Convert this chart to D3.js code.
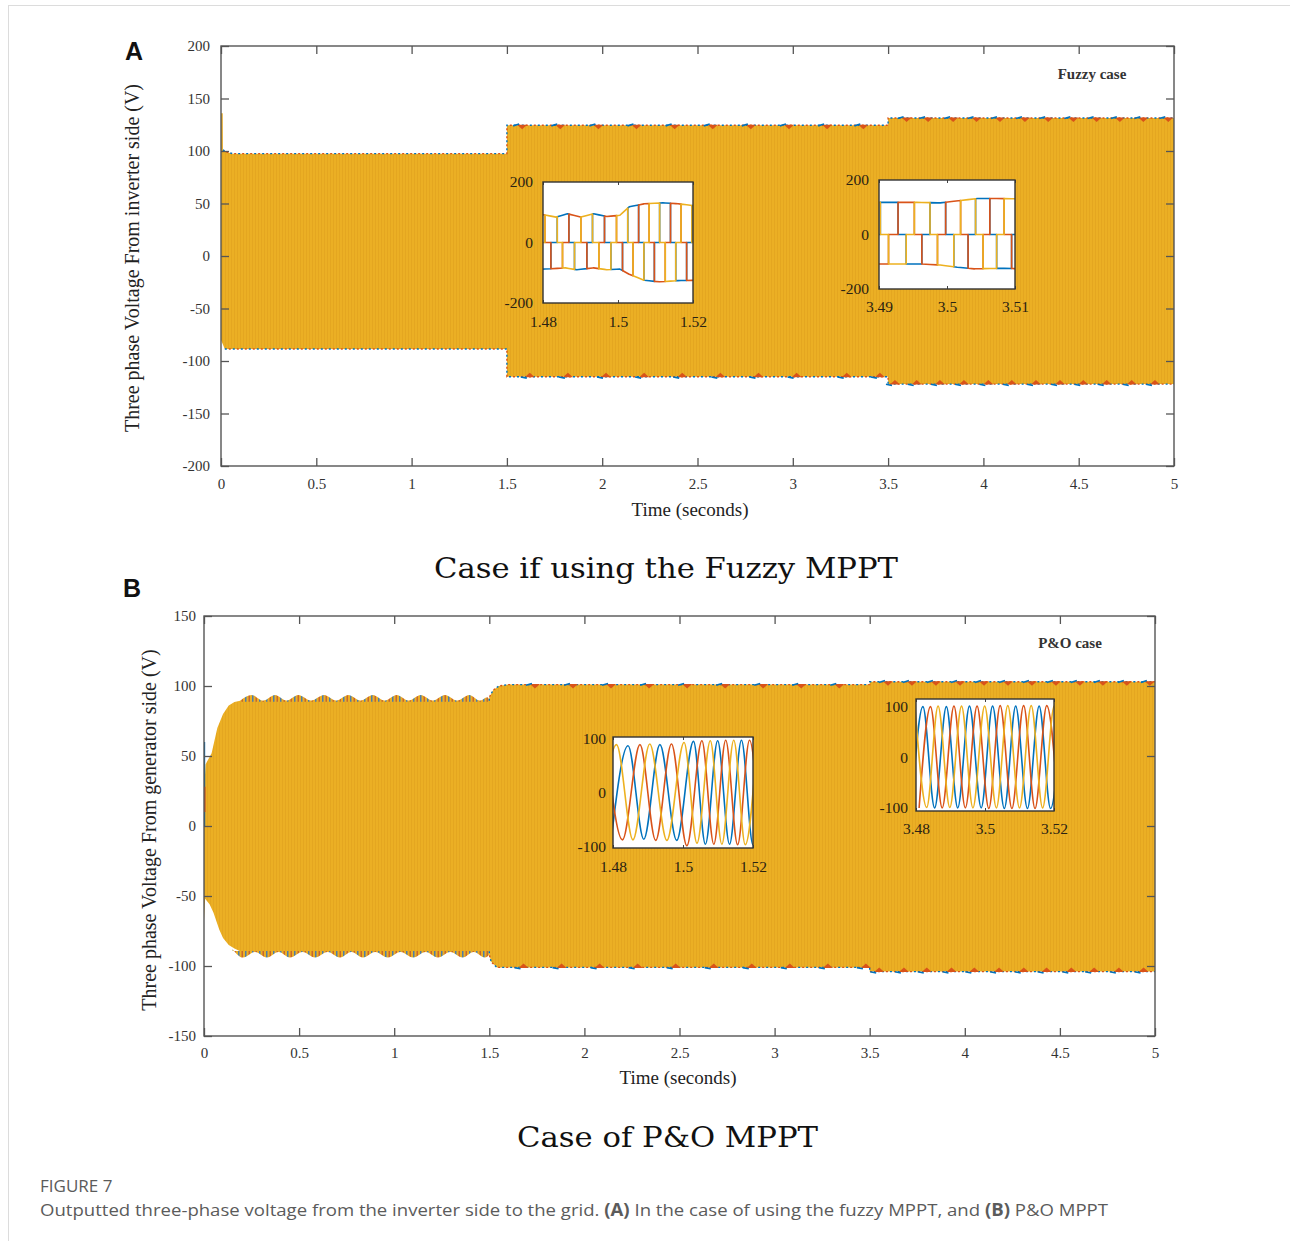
<!DOCTYPE html>
<html>
<head>
<meta charset="utf-8">
<script src="https://cdn.jsdelivr.net/npm/d3@7"></script>
<style>
  body { margin: 0; background: #fff; }
  svg text { font-family: "Liberation Serif", "Times New Roman", serif; }
</style>
</head>
<body>
<svg id="fig" width="1290" height="1241"></svg>
<script>
// ---------------- data ----------------
const timeTicks = [0, 0.5, 1, 1.5, 2, 2.5, 3, 3.5, 4, 4.5, 5];
const fuzzyVoltTicks = [-200, -150, -100, -50, 0, 50, 100, 150, 200];
const poVoltTicks = [-150, -100, -50, 0, 50, 100, 150];

// Fuzzy MPPT: envelope of the three-phase band [time s, volts]
const fuzzyUpper = [[0, 136], [0.009, 136], [0.01, 101], [0.03, 99], [0.06, 97.5], [1.5, 97.5], [1.5, 124.5], [3.5, 124.5], [3.5, 131.5], [5, 131.5]];
const fuzzyLower = [[0, -80], [0.02, -88.5], [1.5, -88.5], [1.5, -115], [3.5, -115], [3.5, -122], [5, -122]];
// times where a phase peak shows on the band edge
const fuzzyTopMarks = [1.58, 1.78, 1.98, 2.18, 2.38, 2.58, 2.78, 2.98, 3.18, 3.37, 3.597, 3.71, 3.841, 3.964, 4.087, 4.218, 4.34, 4.472, 4.594, 4.716, 4.839, 4.97];
const fuzzyBottomMarks = [1.62, 1.82, 2.02, 2.22, 2.42, 2.62, 2.82, 3.02, 3.283, 3.457, 3.536, 3.65, 3.772, 3.898, 4.026, 4.149, 4.276, 4.402, 4.524, 4.647, 4.778, 4.9];

// Fuzzy MPPT inset 1 (1.48-1.52 s): switching instants and level envelopes
const fuzzyInset1Switch = [1.4805, 1.4821, 1.4838, 1.4852, 1.4869, 1.4884, 1.4901, 1.4917, 1.4932, 1.4949, 1.4964, 1.4981, 1.4996, 1.5012, 1.5026, 1.5040, 1.5055, 1.5069, 1.5083, 1.5097, 1.5111, 1.5126, 1.5140, 1.5154, 1.5168, 1.5183, 1.5197];
const fuzzyInset1Upper = [[1.48, 92], [1.4835, 84], [1.4865, 95], [1.49, 84], [1.4935, 95], [1.497, 86], [1.5005, 90], [1.503, 118], [1.507, 128], [1.512, 131], [1.516, 128], [1.52, 122]];
const fuzzyInset1Lower = [[1.48, -88], [1.486, -84], [1.489, -90], [1.4935, -84], [1.497, -90], [1.5005, -88], [1.503, -105], [1.507, -125], [1.511, -130], [1.516, -126], [1.52, -125]];
// Fuzzy MPPT inset 2 (3.49-3.51 s)
const fuzzyInset2Switch = [3.4902, 3.4914, 3.4928, 3.4940, 3.4952, 3.4963, 3.4975, 3.4986, 3.4998, 3.5010, 3.5020, 3.5031, 3.5042, 3.5053, 3.5063, 3.5073, 3.5084, 3.5095, 3.5106];
const fuzzyInset2Upper = [[3.49, 118], [3.4955, 118], [3.499, 116], [3.502, 125], [3.5045, 132], [3.507, 132], [3.511, 131]];
const fuzzyInset2Lower = [[3.49, -108], [3.496, -108], [3.499, -112], [3.5015, -120], [3.504, -126], [3.508, -124], [3.511, -126]];
// six-step conduction pattern (yellow, red, blue legs)
const sixStep = { Y: [1, 1, 0, -1, -1, 0], R: [0, -1, -1, 0, 1, 1], B: [-1, 0, 1, 1, 0, -1] };

// P&O MPPT: envelope of the three-phase band
const poUpper = [[0, 22], [0.008, 44], [0.04, 52], [0.07, 70], [0.1, 80], [0.13, 86], [0.16, 88.5], [0.19, 89.5], [1.5, 89.5], [1.5, 92], [1.52, 97], [1.55, 100], [1.6, 101], [3.5, 101], [3.5, 103], [5, 103]];
const poLower = [[0, -67], [0.006, -52], [0.03, -56], [0.05, -62], [0.08, -74], [0.1, -80], [0.13, -85], [0.16, -87.5], [0.19, -89.5], [1.5, -89.5], [1.5, -92], [1.51, -97], [1.54, -101], [3.5, -101], [3.5, -104], [5, -104]];
// beat ripple on the band edges (0.19-1.5 s)
const poRippleTop = [[0.19, 89.5], [0.251, 93.5], [0.312, 89.5], [0.373, 93.5], [0.434, 89.5], [0.496, 93.5], [0.563, 89.5], [0.631, 93.5], [0.695, 89.5], [0.759, 93.5], [0.823, 89.5], [0.887, 93.5], [0.95, 89.5], [1.013, 93.5], [1.076, 89.5], [1.139, 93.5], [1.203, 89.5], [1.267, 93.5], [1.331, 89.5], [1.395, 93.5], [1.45, 89.5], [1.49, 92], [1.5, 90]];
const poRippleBottom = [[0.15, -88], [0.205, -94], [0.268, -90], [0.331, -94], [0.392, -90], [0.452, -94], [0.518, -90], [0.584, -94], [0.65, -90], [0.715, -94], [0.775, -90], [0.836, -94], [0.9, -90], [0.967, -94], [1.033, -90], [1.1, -94], [1.165, -90], [1.23, -94], [1.295, -90], [1.36, -94], [1.418, -90], [1.477, -94], [1.5, -92]];
const poTopMarks = [1.74, 1.94, 2.14, 2.34, 2.54, 2.74, 2.94, 3.14, 3.34, 3.596, 3.722, 3.848, 3.975, 4.101, 4.227, 4.353, 4.479, 4.605, 4.726, 4.852, 4.973];
const poBottomMarks = [1.68, 1.88, 2.08, 2.28, 2.48, 2.68, 2.88, 3.08, 3.28, 3.48, 3.55, 3.68, 3.8, 3.93, 4.05, 4.18, 4.31, 4.43, 4.56, 4.68, 4.81, 4.94];
// start-up transients at t = 0 [time, from, to, phase]
const poStartSpikes = [[0.002, 0, 60, "B"], [0.004, 10, 28, "R"]];

// P&O inset 1 (1.48-1.52 s): phase extrema [time, volts]
const poInset1Y = [[1.4762, -86], [1.4810, 88], [1.4857, -87], [1.4905, 89], [1.4954, -88], [1.5003, 92], [1.5040, -93], [1.5078, 95], [1.5111, -95], [1.5145, 96], [1.5178, -96], [1.5212, 96]];
const poInset1R = [[1.4781, 86], [1.4827, -87], [1.4877, 88], [1.4922, -88], [1.4967, 89], [1.5011, -98], [1.5054, 95], [1.5088, -95], [1.5122, 96], [1.5156, -96], [1.5190, 96], [1.5222, -96]];
const poInset1B = [[1.4795, -85], [1.4843, 86], [1.4888, -86], [1.4934, 88], [1.4982, -88], [1.5030, 94], [1.5064, -95], [1.5099, 95], [1.5133, -95], [1.5167, 96], [1.5200, -96], [1.5234, 96]];
// P&O inset 2 (3.48-3.52 s)
const poInset2Y = [[3.4797, 99], [3.4831, -99], [3.4864, 100], [3.4898, -99], [3.4932, 100], [3.4965, -100], [3.4999, 100], [3.5033, -100], [3.5066, 101], [3.5100, -100], [3.5134, 101], [3.5167, -100], [3.5201, 101], [3.5235, -100]];
const poInset2R = [[3.4809, -100], [3.4842, 99], [3.4876, -100], [3.4910, 100], [3.4943, -100], [3.4977, 100], [3.5011, -101], [3.5044, 101], [3.5078, -101], [3.5112, 101], [3.5145, -101], [3.5179, 101], [3.5213, -101]];
const poInset2B = [[3.4787, -99], [3.4820, 99], [3.4854, -100], [3.4888, 99], [3.4921, -100], [3.4955, 100], [3.4989, -100], [3.5022, 100], [3.5056, -101], [3.5089, 100], [3.5123, -101], [3.5157, 100], [3.5190, -101], [3.5224, 100]];

// ---------------- drawing ----------------
const COL = { B: "#0072BD", R: "#D95319", Y: "#EDB120" };
const BAND = "#EBAF24";
const plain = d => String(d);   // hyphen-minus labels, as MATLAB prints them
const svg = d3.select("#fig");
const defs = svg.append("defs");

// faint vertical striping of the dense waveform band
const bp = defs.append("pattern").attr("id", "band").attr("patternUnits", "userSpaceOnUse")
  .attr("width", 3).attr("height", 20);
bp.append("rect").attr("width", 3).attr("height", 20).attr("fill", BAND);
bp.append("rect").attr("width", 1).attr("height", 20).attr("fill", "#E4A620");
// multicoloured striping where the phases beat on the edge
const rp = defs.append("pattern").attr("id", "ripple").attr("patternUnits", "userSpaceOnUse")
  .attr("width", 7).attr("height", 20);
rp.append("rect").attr("width", 7).attr("height", 20).attr("fill", BAND);
rp.append("rect").attr("x", 0).attr("width", 1.5).attr("height", 20).attr("fill", "#4E7DA6");
rp.append("rect").attr("x", 3.5).attr("width", 1.5).attr("height", 20).attr("fill", "#C9662C");

// page frame lines
svg.append("line").attr("x1", 8).attr("x2", 1290).attr("y1", 5.5).attr("y2", 5.5).attr("stroke", "#dcdcdc");
svg.append("line").attr("x1", 8.5).attr("x2", 8.5).attr("y1", 5).attr("y2", 1241).attr("stroke", "#dcdcdc");

function envAt(env, t) {
  for (let i = env.length - 1; i >= 0; i--) {
    if (env[i][0] <= t) {
      const n = env[i + 1];
      if (!n || n[0] === env[i][0]) return env[i][1];
      return env[i][1] + (n[1] - env[i][1]) * (t - env[i][0]) / (n[0] - env[i][0]);
    }
  }
  return env[0][1];
}

function mainPanel(o) {
  const g = svg.append("g");
  const x = d3.scaleLinear().domain([0, 5]).range([o.x0, o.x1]);
  const y = d3.scaleLinear().domain(o.yDomain).range([o.y1, o.y0]);
  const clipId = o.id + "clip";
  defs.append("clipPath").attr("id", clipId).append("rect")
    .attr("x", o.x0).attr("y", o.y0).attr("width", o.x1 - o.x0).attr("height", o.y1 - o.y0);
  const plot = g.append("g").attr("clip-path", `url(#${clipId})`);

  // dense band
  const poly = o.upper.map(d => [x(d[0]), y(d[1])]).concat(o.lower.slice().reverse().map(d => [x(d[0]), y(d[1])]));
  plot.append("path").attr("d", d3.line()(poly) + "Z").attr("fill", "url(#band)");

  // beat ripple areas
  if (o.rippleTop) {
    const base = o.rippleTop[0][1];
    plot.append("path").datum(o.rippleTop)
      .attr("d", d3.area().x(d => x(d[0])).y0(y(base) + 1).y1(d => y(d[1])).curve(d3.curveMonotoneX))
      .attr("fill", "url(#ripple)");
    const baseB = -90;
    plot.append("path").datum(o.rippleBottom)
      .attr("d", d3.area().x(d => x(d[0])).y0(y(baseB) - 1).y1(d => y(d[1])).curve(d3.curveMonotoneX))
      .attr("fill", "url(#ripple)");
  }

  // dotted phase colours along the band edges
  const edge = d3.line().x(d => x(d[0])).y(d => y(d[1]));
  [o.upper, o.lower].forEach(env => {
    const pts = env.filter(d => d[0] >= o.edgeFrom);
    plot.append("path").attr("d", edge(pts)).attr("fill", "none").attr("stroke", COL.B)
      .attr("stroke-width", 1.4).attr("stroke-dasharray", "2 6");
    plot.append("path").attr("d", edge(pts)).attr("fill", "none").attr("stroke", COL.R)
      .attr("stroke-width", 1.4).attr("stroke-dasharray", "2 6").attr("stroke-dashoffset", 4);
  });

  // phase peaks poking out of the edges
  o.topMarks.forEach(t => {
    const px = x(t), py = y(envAt(o.upper, t));
    plot.append("path").attr("d", `M${px - 5},${py - 0.5}L${px + 5},${py - 0.5}L${px},${py + 4}Z`).attr("fill", COL.R);
    plot.append("path").attr("d", `M${px - 9},${py + 0.6}L${px - 3},${py - 1.2}`).attr("stroke", COL.B).attr("stroke-width", 1.6);
  });
  o.bottomMarks.forEach(t => {
    const px = x(t), py = y(envAt(o.lower, t));
    plot.append("path").attr("d", `M${px - 5},${py + 0.5}L${px + 5},${py + 0.5}L${px},${py - 4}Z`).attr("fill", COL.R);
    plot.append("path").attr("d", `M${px - 9},${py + 0.2}L${px - 3},${py + 1.4}`).attr("stroke", COL.B).attr("stroke-width", 1.6);
  });
  (o.spikes || []).forEach(s => {
    plot.append("line").attr("x1", x(s[0])).attr("x2", x(s[0])).attr("y1", y(s[1])).attr("y2", y(s[2]))
      .attr("stroke", COL[s[3]]).attr("stroke-width", 1.6);
  });

  // axes with inward ticks on all four sides
  const tk = 8;
  const ax = [
    g.append("g").attr("transform", `translate(0,${o.y1})`).call(d3.axisBottom(x).tickValues(timeTicks).tickFormat(plain).tickSizeInner(-tk).tickSizeOuter(0).tickPadding(o.xPad)),
    g.append("g").attr("transform", `translate(0,${o.y0})`).call(d3.axisTop(x).tickValues(timeTicks).tickFormat("").tickSizeInner(-tk).tickSizeOuter(0)),
    g.append("g").attr("transform", `translate(${o.x0},0)`).call(d3.axisLeft(y).tickValues(o.yTicks).tickFormat(plain).tickSizeInner(-tk).tickSizeOuter(0).tickPadding(o.yPad)),
    g.append("g").attr("transform", `translate(${o.x1},0)`).call(d3.axisRight(y).tickValues(o.yTicks).tickFormat("").tickSizeInner(-tk).tickSizeOuter(0))
  ];
  ax.forEach(a => {
    a.select(".domain").remove();
    a.selectAll("line").attr("stroke", "#555").attr("stroke-width", 1.3);
    a.selectAll("text").attr("fill", "#333").style("font-size", "15px").style("font-family", "Liberation Serif");
  });
  g.append("rect").attr("x", o.x0).attr("y", o.y0).attr("width", o.x1 - o.x0).attr("height", o.y1 - o.y0)
    .attr("fill", "none").attr("stroke", "#555").attr("stroke-width", 1.4);

  g.append("text").attr("x", o.xLabel[0]).attr("y", o.xLabel[1]).attr("text-anchor", "middle")
    .style("font-size", "19px").attr("fill", "#222").text("Time (seconds)");
  g.append("text").attr("transform", `translate(${o.yLabel[0]},${o.yLabel[1]}) rotate(-90)`)
    .attr("text-anchor", "middle").style("font-size", "20px").attr("fill", "#222").text(o.yTitle);
  g.append("text").attr("x", o.tag[0]).attr("y", o.tag[1]).attr("text-anchor", "middle")
    .style("font-size", "15px").style("font-weight", "bold").attr("fill", "#333").text(o.tagText);
  return { x, y, g };
}

// inset zoom box drawn over the main band
function insetBox(o) {
  const g = svg.append("g");
  const x = d3.scaleLinear().domain(o.xDomain).range([o.x0, o.x1]);
  const y = d3.scaleLinear().domain(o.yDomain).range([o.y1, o.y0]);
  g.append("rect").attr("x", o.x0).attr("y", o.y0).attr("width", o.x1 - o.x0).attr("height", o.y1 - o.y0).attr("fill", "#fff");
  const cid = o.id + "clip";
  defs.append("clipPath").attr("id", cid).append("rect")
    .attr("x", o.x0).attr("y", o.y0).attr("width", o.x1 - o.x0).attr("height", o.y1 - o.y0);
  const plot = g.append("g").attr("clip-path", `url(#${cid})`);
  o.series.forEach(s => {
    plot.append("path").datum(s.pts)
      .attr("d", d3.line().x(d => x(d[0])).y(d => y(d[1])).curve(s.curve || d3.curveLinear))
      .attr("fill", "none").attr("stroke", COL[s.phase]).attr("stroke-width", 1.6).attr("stroke-linejoin", "round");
  });
  const ax1 = g.append("g").attr("transform", `translate(0,${o.y1})`)
    .call(d3.axisBottom(x).tickValues(o.xTicks).tickFormat(plain).tickSizeInner(-3).tickSizeOuter(0).tickPadding(o.xPad));
  const ax2 = g.append("g").attr("transform", `translate(${o.x0},0)`)
    .call(d3.axisLeft(y).tickValues(o.yTicks).tickFormat(plain).tickSizeInner(0).tickSizeOuter(0).tickPadding(o.yPad));
  const ax3 = g.append("g").attr("transform", `translate(0,${o.y0})`)
    .call(d3.axisTop(x).tickValues(o.xTicks).tickFormat("").tickSizeInner(-3).tickSizeOuter(0));
  [ax1, ax2, ax3].forEach(a => {
    a.select(".domain").remove();
    a.selectAll("line").attr("stroke", "#444");
    a.selectAll("text").attr("fill", "#2a2212").style("font-size", "15.5px").style("font-family", "Liberation Serif");
  });
  g.append("rect").attr("x", o.x0).attr("y", o.y0).attr("width", o.x1 - o.x0).attr("height", o.y1 - o.y0)
    .attr("fill", "none").attr("stroke", "#333").attr("stroke-width", 1.4);
}

// three-level leg voltage of each phase from switching instants
function legPoints(phase, switches, startState, t0, t1, upper, lower) {
  const bounds = [t0].concat(switches.filter(t => t > t0 && t < t1), [t1]);
  const pts = [];
  for (let i = 0; i < bounds.length - 1; i++) {
    const L = sixStep[phase][(startState + i) % 6];
    const a = bounds[i], b = bounds[i + 1];
    const env = L > 0 ? upper : L < 0 ? lower : null;
    const lv = t => env ? envAt(env, t) : 0;
    pts.push([a, lv(a)]);
    if (env) env.forEach(d => { if (d[0] > a && d[0] < b) pts.push(d); });
    pts.push([b, lv(b)]);
  }
  return pts;
}

// ---- panel A ----
mainPanel({
  id: "A", x0: 221, x1: 1174, y0: 46, y1: 466, yDomain: [-200, 200], yTicks: fuzzyVoltTicks,
  upper: fuzzyUpper, lower: fuzzyLower, topMarks: fuzzyTopMarks, bottomMarks: fuzzyBottomMarks, edgeFrom: 0.01,
  xPad: 12, yPad: 11, xLabel: [690, 516], yLabel: [139, 258],
  yTitle: "Three phase Voltage From inverter side (V)", tag: [1092, 79], tagText: "Fuzzy case"
});
insetBox({
  id: "A1", x0: 543, x1: 693, y0: 182, y1: 303, xDomain: [1.48, 1.52], yDomain: [-200, 200],
  xTicks: [1.48, 1.5, 1.52], yTicks: [-200, 0, 200], xPad: 13, yPad: 10,
  series: ["B", "R", "Y"].map(p => ({ phase: p, pts: legPoints(p, fuzzyInset1Switch, 5, 1.48, 1.52, fuzzyInset1Upper, fuzzyInset1Lower) }))
});
insetBox({
  id: "A2", x0: 879, x1: 1015, y0: 180, y1: 289, xDomain: [3.49, 3.51], yDomain: [-200, 200],
  xTicks: [3.49, 3.5, 3.51], yTicks: [-200, 0, 200], xPad: 12, yPad: 10,
  series: ["B", "R", "Y"].map(p => ({ phase: p, pts: legPoints(p, fuzzyInset2Switch, 1, 3.49, 3.51, fuzzyInset2Upper, fuzzyInset2Lower) }))
});

// ---- panel B ----
mainPanel({
  id: "B", x0: 204, x1: 1155, y0: 616, y1: 1036, yDomain: [-150, 150], yTicks: poVoltTicks,
  upper: poUpper, lower: poLower, rippleTop: poRippleTop, rippleBottom: poRippleBottom,
  topMarks: poTopMarks, bottomMarks: poBottomMarks, edgeFrom: 1.49, spikes: poStartSpikes,
  xPad: 11, yPad: 8, xLabel: [678, 1084], yLabel: [156, 830],
  yTitle: "Three phase Voltage From generator side (V)", tag: [1070, 648], tagText: "P&O case"
});
insetBox({
  id: "B1", x0: 613, x1: 753, y0: 737, y1: 848, xDomain: [1.48, 1.52], yDomain: [-102, 102],
  xTicks: [1.48, 1.5, 1.52], yTicks: [-100, 0, 100], xPad: 13, yPad: 7,
  series: [["B", poInset1B], ["R", poInset1R], ["Y", poInset1Y]].map(s => ({ phase: s[0], pts: s[1], curve: d3.curveMonotoneX }))
});
insetBox({
  id: "B2", x0: 916, x1: 1054, y0: 699, y1: 811, xDomain: [3.48, 3.52], yDomain: [-106, 114],
  xTicks: [3.48, 3.5, 3.52], yTicks: [-100, 0, 100], xPad: 12, yPad: 8,
  series: [["B", poInset2B], ["R", poInset2R], ["Y", poInset2Y]].map(s => ({ phase: s[0], pts: s[1], curve: d3.curveMonotoneX }))
});

// ---- titles and caption ----
const serifTitle = t => t.style("font-family", "DejaVu Serif").style("font-size", "28px").attr("fill", "#111");
serifTitle(svg.append("text").attr("x", 434).attr("y", 578).attr("textLength", 464).attr("lengthAdjust", "spacingAndGlyphs").text("Case if using the Fuzzy MPPT"));
serifTitle(svg.append("text").attr("x", 517).attr("y", 1147).attr("textLength", 301).attr("lengthAdjust", "spacingAndGlyphs").text("Case of P&O MPPT"));

svg.append("text").attr("x", 125).attr("y", 60).style("font-family", "Liberation Sans").style("font-weight", "bold").style("font-size", "25px").attr("fill", "#111").text("A");
svg.append("text").attr("x", 123).attr("y", 597).style("font-family", "Liberation Sans").style("font-weight", "bold").style("font-size", "25px").attr("fill", "#111").text("B");

svg.append("text").attr("x", 40).attr("y", 1192).style("font-family", "Open Sans").style("font-size", "17px").attr("fill", "#5b5b5b").text("FIGURE 7");
const cap = svg.append("text").attr("x", 40).attr("y", 1216).style("font-family", "Open Sans").style("font-size", "17px").attr("fill", "#5b5b5b")
  .attr("textLength", 1068).attr("lengthAdjust", "spacingAndGlyphs");
cap.append("tspan").text("Outputted three-phase voltage from the inverter side to the grid. ");
cap.append("tspan").style("font-weight", "bold").text("(A)");
cap.append("tspan").text(" In the case of using the fuzzy MPPT, and ");
cap.append("tspan").style("font-weight", "bold").text("(B)");
cap.append("tspan").text(" P&O MPPT");
</script>
</body>
</html>
